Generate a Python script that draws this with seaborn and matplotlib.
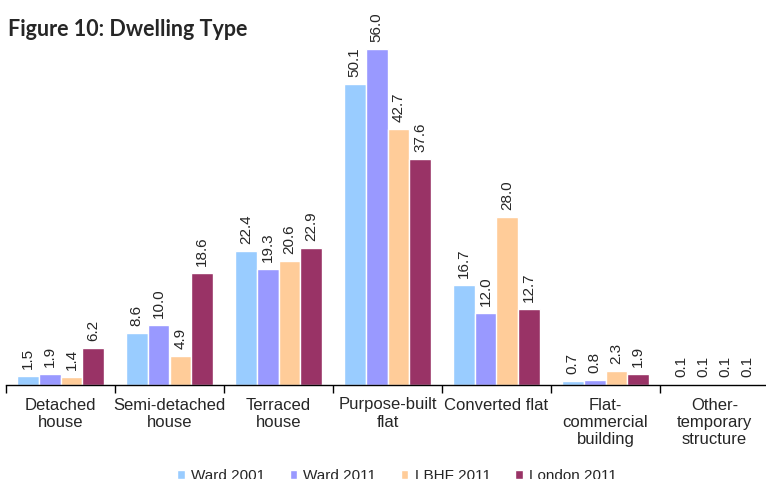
import pandas as pd
import numpy as np
import matplotlib.pyplot as plt
import seaborn as sns

categories = ['Detached\nhouse', 'Semi-detached\nhouse', 'Terraced\nhouse',
              'Purpose-built\nflat', 'Converted flat', 'Flat-\ncommercial\nbuilding',
              'Other-\ntemporary\nstructure']
series = ['Ward 2001', 'Ward 2011', 'LBHF 2011', 'London 2011']
ward_2001 = [1.5, 8.6, 22.4, 50.1, 16.7, 0.7, 0.1]
ward_2011 = [1.9, 10.0, 19.3, 56.0, 12.0, 0.8, 0.1]
lbhf_2011 = [1.4, 4.9, 20.6, 42.7, 28.0, 2.3, 0.1]
london_2011 = [6.2, 18.6, 22.9, 37.6, 12.7, 1.9, 0.1]
colors = ['#99CCFF', '#9999FF', '#FFCC99', '#993366']

rows = []
for name, vals in zip(series, [ward_2001, ward_2011, lbhf_2011, london_2011]):
    for cat, v in zip(categories, vals):
        rows.append({'category': cat, 'series': name, 'value': v})
df = pd.DataFrame(rows)

sns.set_style('white')
plt.rcParams['font.family'] = ['Liberation Sans', 'DejaVu Sans']

fig = plt.figure(figsize=(7.66, 4.79), dpi=100)
ax = fig.add_axes([6 / 766, 94 / 479, 763 / 766, 345 / 479])

sns.barplot(data=df, x='category', y='value', hue='series', order=categories,
            hue_order=series, palette=colors, width=0.8, saturation=1,
            ax=ax, legend=True)

for cont in ax.containers:
    ax.bar_label(cont, fmt='%.1f', rotation=90, padding=5, fontsize=11)

ax.set_xlim(-0.5, 6.5)
ax.set_ylim(0, 57.5)
ax.set_xlabel('')
ax.set_ylabel('')
ax.set_yticks([])
for s in ['top', 'right', 'left']:
    ax.spines[s].set_visible(False)
ax.spines['bottom'].set_color('black')
ax.spines['bottom'].set_linewidth(1)
ax.set_xticks(np.arange(-0.5, 7, 1), minor=True)
ax.tick_params(axis='x', which='minor', length=6, color='black', width=1, bottom=True)
ax.tick_params(axis='x', which='major', length=0, pad=9, labelsize=12)

leg = ax.legend(loc='center', bbox_to_anchor=(397 / 766, 3 / 479),
                bbox_transform=fig.transFigure, ncol=4, frameon=False,
                fontsize=11, handlelength=0.5, handleheight=0.5,
                handletextpad=0.4, columnspacing=1.6)

fig.text(8 / 766, 1 - 30 / 479, 'Figure 10: Dwelling Type', fontsize=15.5,
         fontweight='bold', family=['Lato', 'DejaVu Sans'], va='center')

fig.savefig('out.png', dpi=100)
